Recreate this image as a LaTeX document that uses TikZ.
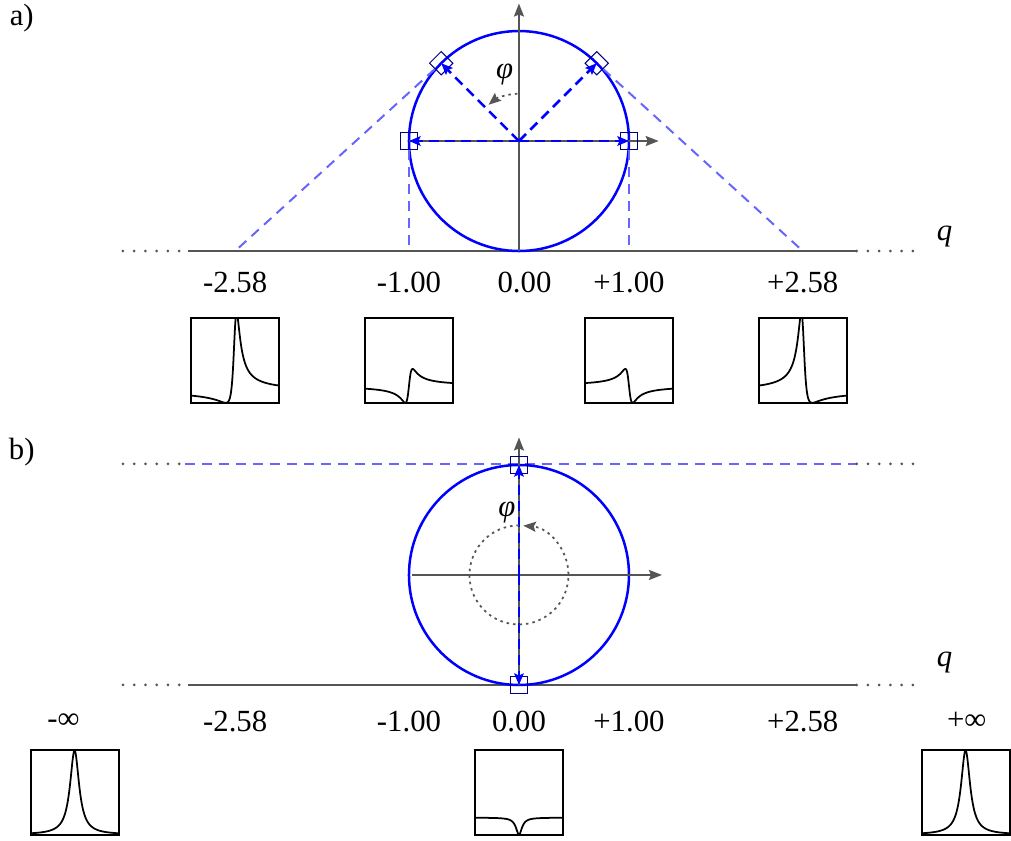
\documentclass[tikz,border=0pt]{standalone}
\usepackage{fontspec}
\setmainfont{Liberation Serif}
\usetikzlibrary{arrows.meta}

\definecolor{axisgray}{HTML}{555555}
\definecolor{markblue}{HTML}{000080}
\colorlet{projblue}{blue!60}

\tikzset{
  axis/.style={axisgray, line width=0.8pt, -{Stealth[length=5.2pt,width=4pt,inset=0.8pt]}},
  qline/.style={axisgray, line width=1.1pt},
  qdots/.style={axisgray, line width=1.2pt, line cap=round, dash pattern=on 0pt off 4.5pt},
  vec/.style={blue, line width=1pt, dash pattern=on 4pt off 2.4pt, -{Stealth[length=4.6pt,width=3.8pt,inset=0.8pt]}},
  proj/.style={projblue, line width=0.8pt, dash pattern=on 4pt off 2.8pt},
  marker/.style={draw=markblue, line width=0.4pt, minimum size=6.6pt, inner sep=0pt},
  phiarc/.style={axisgray, line width=0.7pt, dash pattern=on 1pt off 1.6pt, -{Stealth[length=5pt,width=4pt,inset=0.8pt]}},
  framebox/.style={draw=black, line width=0.8pt},
  curve/.style={black, line width=0.7pt},
}

% Fano profile inside a box: #1 = centre x, #2 = bottom y, #3 = q, #4 = top value
\newcommand{\fanobox}[4]{%
  \begin{scope}[shift={(#1,#2)}]
    \draw[framebox] (-0.4,0) rectangle (0.4,0.77);
    \clip (-0.4,0) rectangle (0.4,0.77);
    \draw[curve] plot[domain=-12:12, samples=241]
      ({\x/30}, {0.77*((\x)-(#3))*((\x)-(#3))/(1+(\x)*(\x))/(#4)});
  \end{scope}}
% Lorentzian (q -> infinity): #1 = centre x, #2 = bottom y
\newcommand{\lorentzbox}[2]{%
  \begin{scope}[shift={(#1,#2)}]
    \draw[framebox] (-0.4,0) rectangle (0.4,0.77);
    \clip (-0.4,0) rectangle (0.4,0.77);
    \draw[curve] plot[domain=-8:8, samples=241]
      ({\x/20}, {0.765/(1+(\x)*(\x))});
  \end{scope}}

\begin{document}
\begin{tikzpicture}[x=44pt, y=44pt, font=\fontsize{12.3pt}{14pt}\selectfont]
\useasboundingbox (-4.718,-6.355) rectangle (4.473,1.282);

% a) finite q
\begin{scope}
    \node (la) at (-4.52,1.12) {a)};

    \coordinate (O) at (0,0);
    \coordinate (ytip) at (0,1.25);
    \coordinate (bot) at (0,-1);
    \coordinate (xtail) at (-1,0);
    \coordinate (xtip) at (1.27,0);

    % q axis
    \coordinate (dL) at (-3.6,-1);
    \coordinate (qL) at (-3.01,-1);
    \coordinate (qR) at (3.07,-1);
    \coordinate (dR) at (3.66,-1);
    \draw[qline] (qL) -- (qR);
    \draw[qdots] (dL) -- (qL);
    \draw[qdots] (qR) -- (dR);
    \node (qa) at (3.87,-0.87) {\textit{q}};

    \draw[blue, line width=1pt] (O) circle (1);
    \draw[axis] (bot) -- (ytip);
    \draw[axis] (xtail) -- (xtip);

    % points on the circle
    \foreach \a/\n in {0/r, 45/ur, 135/ul, 180/l}
        \coordinate (p\n) at (\a:1);
    \foreach \n in {r, l}
        \node[marker] (m\n) at (p\n) {};
    \foreach \n in {ur, ul}
        \node[marker, rotate=45] (m\n) at (p\n) {};

    % projections onto the q axis
    \coordinate (f1) at (-2.58,-1);
    \coordinate (f2) at (-1,-1);
    \coordinate (f3) at (1,-1);
    \coordinate (f4) at (2.58,-1);
    \draw[proj] (mul) -- (f1);
    \draw[proj] (ml.south) -- (f2);
    \draw[proj] (mr.south) -- (f3);
    \draw[proj] (mur) -- (f4);

    \foreach \n in {r, ur, ul, l}
        \draw[vec] (O) -- (p\n);

    \draw[phiarc] (92:0.43) arc[start angle=92, end angle=130, radius=0.43];
    \node (phia) at (-0.13,0.6) {\textit{φ}};

    % labels
    \foreach \v/\t [count=\i] in {-2.58/-2.58, -1/-1.00, 0.05/0.00, 1/+1.00, 2.58/+2.58}
        \node (ta\i) at (\v,-1.29) {\t};

    \fanobox{-2.58}{-2.38}{-2.58}{7.2}
    \fanobox{-1}{-2.38}{-1}{5}
    \fanobox{1}{-2.38}{1}{5}
    \fanobox{2.58}{-2.38}{2.58}{7.2}
\end{scope}

% b) q = 0 and q -> infinity
\begin{scope}[shift={(0,-3.945)}]
    \node (lb) at (-4.52,1.12) {b)};

    \coordinate (O) at (0,0);
    \coordinate (ytip) at (0,1.25);
    \coordinate (bot) at (0,-1);
    \coordinate (xtail) at (-0.97,0);
    \coordinate (xtip) at (1.3,0);

    % line at infinity
    \coordinate (tdL) at (-3.6,1.01);
    \coordinate (tL) at (-3.04,1.01);
    \coordinate (tR) at (3.07,1.01);
    \coordinate (tdR) at (3.66,1.01);
    \draw[proj] (tL) -- (tR);
    \draw[qdots] (tdL) -- (tL);
    \draw[qdots] (tR) -- (tdR);

    % q axis
    \coordinate (dL) at (-3.6,-1);
    \coordinate (qL) at (-3.01,-1);
    \coordinate (qR) at (3.07,-1);
    \coordinate (dR) at (3.66,-1);
    \draw[qline] (qL) -- (qR);
    \draw[qdots] (dL) -- (qL);
    \draw[qdots] (qR) -- (dR);
    \node (qb) at (3.87,-0.8) {\textit{q}};

    \draw[blue, line width=1pt] (O) circle (1);
    \draw[axis] (bot) -- (ytip);
    \draw[axis] (xtail) -- (xtip);

    \coordinate (pt) at (90:1);
    \coordinate (pb) at (-90:1);
    \node[marker] (mt) at (pt) {};
    \node[marker] (mb) at (pb) {};
    \draw[vec] (O) -- (pt);
    \draw[vec] (O) -- (pb);

    \draw[phiarc] (90:0.45) arc[start angle=90, end angle=445, radius=0.45];
    \node (phib) at (-0.11,0.57) {\textit{φ}};

    % labels
    \foreach \v/\t [count=\i] in {-4.14/-∞, -2.58/-2.58, -1/-1.00, 0/0.00, 1/+1.00, 2.58/+2.58, 4.07/+∞}
        \node (tb\i) at (\v,-1.33) {\t};

    \lorentzbox{-4.04}{-2.36}
    \fanobox{0}{-2.36}{0}{5}
    \lorentzbox{4.06}{-2.36}
\end{scope}

\end{tikzpicture}
\end{document}
